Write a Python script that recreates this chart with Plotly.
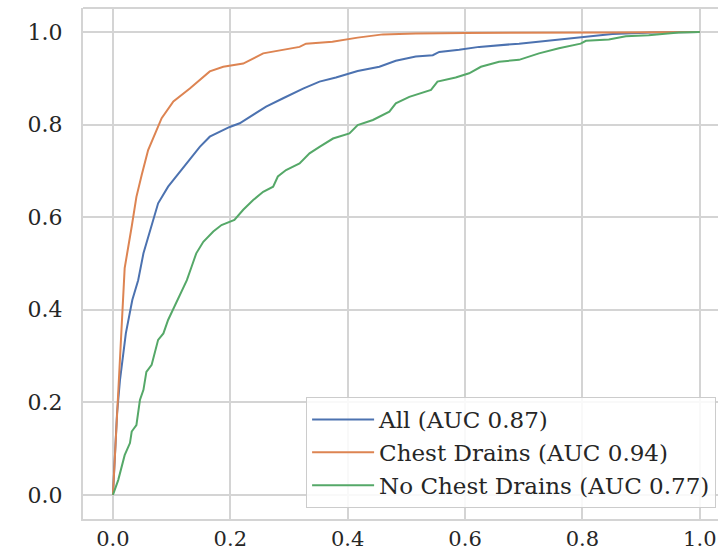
import plotly.graph_objects as go

# ROC curve points
all_fpr = [0.0, 0.007, 0.012, 0.022, 0.033, 0.043, 0.052, 0.066, 0.077, 0.094, 0.117, 0.131, 0.148, 0.165,
           0.182, 0.199, 0.216, 0.239, 0.261, 0.290, 0.324, 0.352, 0.380, 0.417, 0.454, 0.482, 0.516,
           0.545, 0.556, 0.590, 0.624, 0.692, 0.760, 0.806, 0.851, 0.919, 0.976, 1.0]
all_tpr = [0.0, 0.176, 0.248, 0.349, 0.421, 0.464, 0.522, 0.580, 0.630, 0.666, 0.702, 0.724, 0.752, 0.774,
           0.785, 0.795, 0.803, 0.821, 0.839, 0.857, 0.878, 0.893, 0.902, 0.916, 0.925, 0.938, 0.947,
           0.950, 0.957, 0.962, 0.968, 0.975, 0.984, 0.991, 0.996, 0.999, 1.0, 1.0]

cd_fpr = [0.0, 0.006, 0.013, 0.020, 0.032, 0.040, 0.049, 0.060, 0.083, 0.103, 0.131, 0.165, 0.188, 0.222,
          0.256, 0.318, 0.329, 0.374, 0.417, 0.460, 0.516, 0.600, 0.850, 1.0]
cd_tpr = [0.0, 0.147, 0.320, 0.490, 0.580, 0.644, 0.691, 0.745, 0.814, 0.850, 0.878, 0.915, 0.925, 0.932,
          0.954, 0.968, 0.975, 0.979, 0.988, 0.995, 0.997, 0.998, 0.999, 1.0]

ncd_fpr = [0.0, 0.009, 0.020, 0.029, 0.032, 0.040, 0.046, 0.052, 0.057, 0.066, 0.077, 0.086, 0.094, 0.105,
           0.114, 0.122, 0.126, 0.134, 0.142, 0.154, 0.171, 0.185, 0.207, 0.222, 0.239, 0.256, 0.273,
           0.281, 0.295, 0.318, 0.335, 0.352, 0.375, 0.403, 0.417, 0.443, 0.471, 0.482, 0.505, 0.542,
           0.553, 0.584, 0.607, 0.627, 0.658, 0.692, 0.726, 0.760, 0.797, 0.806, 0.845, 0.874, 0.913,
           0.964, 1.0]
ncd_tpr = [0.0, 0.032, 0.086, 0.112, 0.137, 0.151, 0.205, 0.227, 0.266, 0.281, 0.335, 0.349, 0.378, 0.407,
           0.432, 0.450, 0.464, 0.493, 0.522, 0.547, 0.569, 0.583, 0.594, 0.616, 0.637, 0.655, 0.666,
           0.688, 0.702, 0.716, 0.738, 0.752, 0.770, 0.781, 0.799, 0.810, 0.828, 0.846, 0.860, 0.875,
           0.893, 0.902, 0.911, 0.925, 0.936, 0.940, 0.954, 0.965, 0.975, 0.981, 0.984, 0.991, 0.993,
           0.999, 1.0]

series_names = ["All (AUC 0.87)", "Chest Drains (AUC 0.94)", "No Chest Drains (AUC 0.77)"]
series_colors = ["#4C72B0", "#DD8452", "#55A868"]
tick_vals = [0.0, 0.2, 0.4, 0.6, 0.8, 1.0]
tick_text = ["0.0", "0.2", "0.4", "0.6", "0.8", "1.0"]

FONT = "DejaVu Serif"
GRID = "#d4d4d4"

fig = go.Figure()
for (fx, fy), name, col in zip([(all_fpr, all_tpr), (cd_fpr, cd_tpr), (ncd_fpr, ncd_tpr)],
                               series_names, series_colors):
    fig.add_trace(go.Scatter(x=fx, y=fy, mode="lines", name=name,
                             line=dict(color=col, width=2)))

fig.update_layout(
    width=718, height=555,
    margin=dict(l=83, r=0, t=8, b=36),
    paper_bgcolor="white", plot_bgcolor="white",
    font=dict(family=FONT, size=21, color="#262626"),
    showlegend=True,
    legend=dict(x=0.997, y=0.0215, xanchor="right", yanchor="bottom",
                bgcolor="rgba(255,255,255,0.85)", bordercolor="#cccccc", borderwidth=1,
                font=dict(family=FONT, size=23, color="#262626"),
                tracegroupgap=0, itemwidth=62),
    xaxis=dict(range=[-0.051, 1.031], tickvals=tick_vals, ticktext=tick_text,
               tickfont=dict(size=21),
               showgrid=True, gridcolor=GRID, gridwidth=2, zeroline=False,
               showline=True, linecolor=GRID, linewidth=2, automargin=False,
               ticks="", ticklabelstandoff=0, fixedrange=True),
    yaxis=dict(range=[-0.052, 1.052], tickvals=tick_vals, ticktext=tick_text,
               tickfont=dict(size=22),
               showgrid=True, gridcolor=GRID, gridwidth=2, zeroline=False,
               showline=True, linecolor=GRID, linewidth=2, automargin=False,
               ticks="", ticklabelstandoff=14, fixedrange=True),
    shapes=[dict(type="line", xref="paper", yref="paper", x0=0, x1=1, y0=1, y1=1,
                 line=dict(color=GRID, width=2), layer="below")],
)

fig.write_html("out.html")
